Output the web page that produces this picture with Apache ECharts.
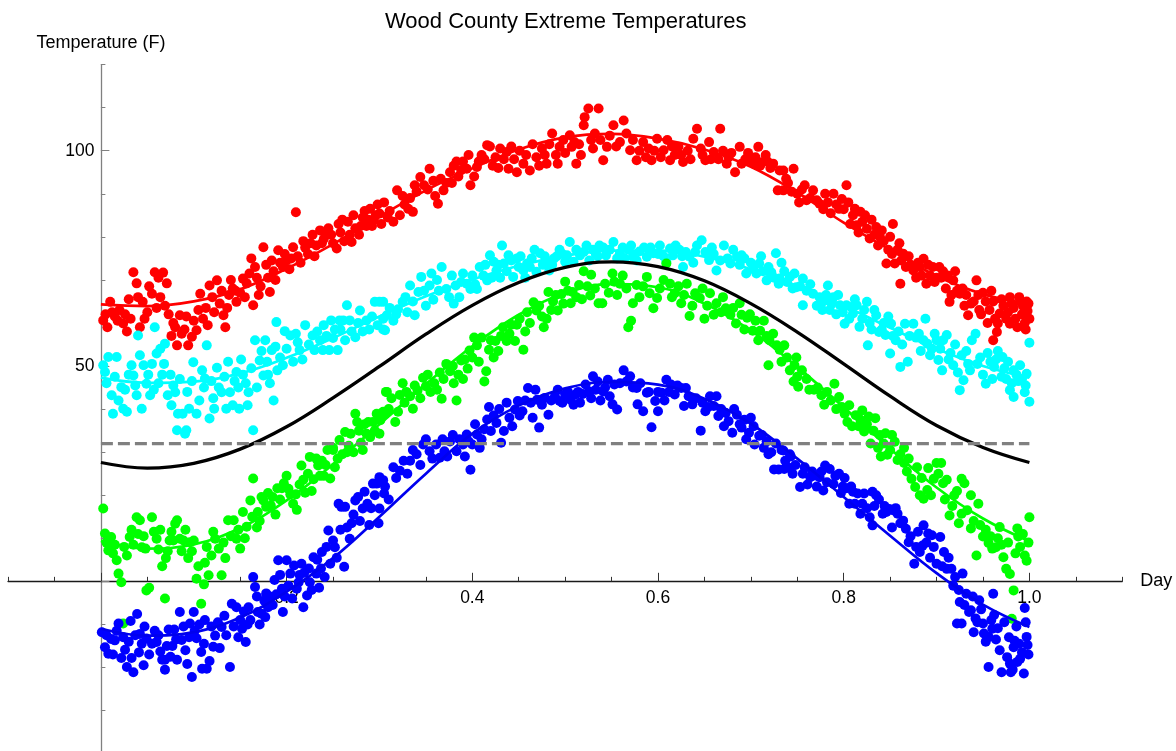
<!DOCTYPE html>
<html><head><meta charset="utf-8">
<script src="https://cdn.jsdelivr.net/npm/echarts@6/dist/echarts.min.js"></script>
<style>html,body{margin:0;padding:0;background:#fff}#c{width:1176px;height:751px}</style>
</head><body><div id="c"></div>
<script>
const titleText = 'Wood County Extreme Temperatures';
const xName = 'Day';
const yName = 'Temperature (F)';
const xTickLabels = ['0.2','0.4','0.6','0.8','1.0'];
const yTickLabels = ['50','100'];
const freezingF = 32;

const fitX = [0,0.05,0.1,0.15,0.2,0.25,0.3,0.35,0.4,0.45,0.5,0.55,0.6,0.65,0.7,0.75,0.8,0.85,0.9,0.95,1.0];
const redFit   = [64.3,63.9,65.0,67.8,72.6,78.3,84.7,90.8,95.9,100.3,103.1,103.9,102.8,100.3,96.3,90.3,83.3,77.0,70.9,66.7,64.3];
const cyanFit  = [47.3,46.1,46.4,48.3,51.9,56.5,61.5,66.2,70.1,73.3,75.6,76.8,76.8,75.4,72.5,68.6,64.0,58.9,54.0,50.0,47.3];
const blackCurve = [27.6,26.3,27.4,30.7,35.9,42.6,49.9,57.4,64.1,69.4,72.9,74.2,73.1,69.8,64.5,57.9,50.5,43.0,36.2,31.1,27.6];
const greenFit = [9.4,7.6,8.6,12.4,18.8,27.2,36.5,45.8,54.6,61.9,66.9,69.0,68.3,64.5,58.2,49.8,40.4,30.8,21.8,14.6,9.3];
const blueFit  = [-11.0,-12.6,-11.8,-8.4,-2.4,5.4,15.0,25.0,34.3,40.8,44.8,46.3,45.7,42.4,36.6,28.5,19.6,10.6,1.9,-5.4,-10.6];

const redPoints = [
[0.0025,60.6],[0.005,62],[0.01,64.9],[0.015,61.5],[0.02,63],[0.024,59.9],[0.028,58],[0.03,65.5],[0.035,71.8],[0.0385,69.2],[0.042,59],[0.045,64.9],[0.05,62.5],[0.055,66.8],[0.058,71.8],[0.062,70.5],[0.064,66],[0.067,71.7],[0.071,69.2],[0.076,57],[0.078,60],[0.082,54.8],[0.085,61.8],[0.09,58.5],[0.094,54.8],[0.098,56.8],[0.103,58.3],[0.107,66.8],[0.11,61],[0.113,63.5],[0.117,68.7],[0.12,66],[0.125,69.9],[0.128,64.5],[0.132,61.8],[0.134,59],[0.138,66.5],[0.142,68],[0.146,64.9],[0.15,67],[0.153,70.3],[0.157,69.2],[0.162,75],[0.164,64.1],[0.168,70.5],[0.172,68.5],[0.175,77.6],[0.178,73.5],[0.182,67.2],[0.186,72],[0.191,76.9],[0.196,73],[0.2,74.5],[0.203,72.5],[0.207,77.6],[0.21,85.7],[0.212,75.5],[0.218,79],[0.223,76],[0.228,80.5],[0.232,78],[0.236,81.5],[0.24,79.5],[0.245,82],[0.248,80.5],[0.254,77.3],[0.258,81],[0.262,79],[0.266,83.5],[0.27,78.8],[0.274,82],[0.278,80.5],[0.282,84.5],[0.286,82.5],[0.29,86.5],[0.294,84],[0.298,87.5],
[0.007,59],[0.012,62.5],[0.018,60.5],[0.026,62],[0.032,61],[0.04,66],[0.047,61],[0.052,68.5],[0.06,63.5],[0.069,64],[0.073,62],[0.08,59],[0.087,57.5],[0.092,61.5],[0.1,60.5],[0.105,63],[0.115,59.5],[0.122,62.5],[0.13,67.5],[0.136,63.5],[0.14,70],[0.145,67.5],[0.155,66],[0.16,71.5],[0.166,73],[0.17,66.5],[0.18,70.5],[0.184,74.5],[0.188,70],[0.193,74],[0.198,76],[0.205,75],[0.215,74],[0.22,77.5],[0.226,78.5],[0.23,75.5],[0.238,78.5],[0.243,80.5],[0.25,78.5],[0.256,83],[0.26,84],[0.268,80.5],[0.272,85],[0.28,82.5],[0.284,86],[0.288,84],[0.292,82.5],[0.296,85],
[0.3,85.4],[0.305,88],[0.311,86],[0.315,83.5],[0.319,90.8],[0.322,85],[0.327,87.5],[0.333,89],[0.336,85.8],[0.34,90.5],[0.344,93.9],[0.348,92],[0.354,95.8],[0.358,93],[0.363,87.7],[0.369,90.8],[0.372,92.5],[0.376,95],[0.38,96.5],[0.385,94],[0.39,97.5],[0.394,95.8],[0.398,92],[0.405,96.2],[0.41,99],[0.416,101.3],[0.419,101],[0.425,98.5],[0.43,100.5],[0.437,99.7],[0.439,95.8],[0.445,98],[0.448,95],[0.455,97],[0.462,95.4],[0.469,98.5],[0.475,100.5],[0.48,97],[0.486,104],[0.49,99],[0.494,100.9],[0.498,102.5],[0.505,103.6],[0.507,100.9],[0.512,97],[0.515,101.5],[0.52,105.9],[0.521,107.8],[0.525,109.8],[0.528,102.5],[0.532,104],[0.536,109.8],[0.541,97.8],[0.545,100.9],[0.548,103.5],[0.552,105.9],[0.559,102],[0.563,107],[0.566,104],[0.57,100.1],[0.577,97.8],[0.58,100],[0.584,102],[0.59,100.5],[0.593,97.8],[0.599,102.8],[0.606,100.1],[0.61,102.5],[0.613,97.8],[0.618,99],[0.622,100.9],[0.627,97.4],[0.632,100],[0.638,102.8],[0.642,105.1],[0.646,100.5],[0.651,97.8],[0.655,102],[0.66,99.7],[0.665,98],[0.667,105.1],[0.674,97],[0.679,99.5],[0.683,95],[0.688,100.9],[0.694,98],[0.699,97.8],[0.703,97],[0.708,100.9],[0.713,97.4],[0.718,97.5],[0.724,97],[0.729,90.8],[0.735,95.4],[0.746,95.8],
[0.302,83],[0.309,84.5],[0.325,89.5],[0.331,86.5],[0.338,92],[0.352,91],[0.36,89.5],[0.366,93.5],[0.378,92.5],[0.383,97.5],[0.388,95.5],[0.396,99],[0.402,94],[0.407,97.5],[0.413,98],[0.422,96.5],[0.428,96],[0.434,98],[0.442,101],[0.451,100],[0.458,99],[0.465,101.5],[0.472,96.5],[0.478,99],[0.483,101.5],[0.492,97],[0.5,99.5],[0.51,102],[0.517,99],[0.53,100.5],[0.538,102.5],[0.555,101],[0.573,102.5],[0.587,98.5],[0.596,100],[0.603,98.5],[0.615,101],[0.625,99],[0.635,98],[0.648,99],[0.657,98],[0.67,100],[0.676,98.5],[0.69,97],[0.697,99.5],[0.705,98.5],[0.71,96.5],[0.716,99],[0.721,96],
[0.731,95.4],[0.735,90.8],[0.74,92.5],[0.75,90],[0.755,91],[0.76,88.5],[0.767,90.8],[0.774,87.7],[0.778,86.4],[0.783,88],[0.789,90],[0.795,86.5],[0.798,88.8],[0.8,86.4],[0.803,92],[0.807,83],[0.81,85],[0.814,82.7],[0.818,85.8],[0.82,83.5],[0.825,81.9],[0.828,79.6],[0.83,84],[0.835,82.3],[0.839,80],[0.843,79],[0.846,73.8],[0.85,80],[0.853,83],[0.855,73.8],[0.858,77],[0.861,69.1],[0.864,76.1],[0.867,73],[0.87,75.5],[0.875,72.2],[0.878,70.5],[0.882,73],[0.886,74.9],[0.889,69.1],[0.893,71],[0.896,73],[0.9,70.5],[0.903,73],[0.907,72],[0.91,68],[0.914,64.9],[0.918,69.9],[0.922,67.5],[0.925,66.8],[0.93,64],[0.934,61.8],[0.94,65],[0.943,69.9],[0.946,63],[0.95,67],[0.953,65],[0.957,63],[0.961,65],[0.961,56],[0.965,57.9],[0.966,59.9],[0.968,62.2],[0.972,64],[0.979,66],[0.979,59.8],[0.983,63.5],[0.987,59],[0.99,65],[0.992,62],[0.995,60],[0.997,65],[0.998,62.8],[1.0,61],
[0.738,93.5],[0.744,90.5],[0.752,88],[0.758,92],[0.764,89],[0.771,88.5],[0.78,90],[0.786,85.5],[0.792,87.5],[0.805,88],[0.812,86.5],[0.816,81],[0.823,85],[0.833,80.5],[0.837,78],[0.841,81.5],[0.848,77],[0.852,76],[0.86,78.5],[0.862,74.5],[0.872,73.5],[0.88,74],[0.884,71],[0.891,73.5],[0.898,69.5],[0.905,70.5],[0.912,71],[0.916,66.5],[0.92,72],[0.928,68],[0.932,66.5],[0.937,64.5],[0.945,66.5],[0.948,62],[0.955,60],[0.959,67.5],[0.963,61],[0.97,65.5],[0.975,61],[0.977,62.5],[0.981,64.5],[0.985,61],[0.989,66],[0.993,64],[0.996,58.5],[0.999,64.5]
];

const cyanPoints = [
[0.0025,50.2],[0.0044,48.6],[0.008,52.1],[0.0116,43.2],[0.013,38.9],[0.017,52.1],[0.022,45.1],[0.024,40.1],[0.028,39.4],[0.033,50.2],[0.035,47.8],[0.0385,43.2],[0.04,57.1],[0.044,40.1],[0.046,50.2],[0.049,45.9],[0.053,43.2],[0.057,44.5],[0.058,59],[0.06,52.9],[0.064,54],[0.066,48],[0.069,55.2],[0.072,43.2],[0.075,48],[0.076,40.9],[0.08,43.9],[0.082,35.1],[0.083,38.9],[0.088,38.9],[0.0906,34.3],[0.092,35.1],[0.095,40.1],[0.0995,50.9],[0.103,38.9],[0.111,45],[0.112,47.1],[0.114,54.8],[0.117,37.8],[0.121,42.5],[0.122,40.1],[0.125,49.6],[0.13,43.9],[0.135,40.1],[0.139,43.9],[0.142,40.9],[0.146,48.6],[0.148,45],[0.149,40.1],[0.153,48],[0.158,40.9],[0.159,43.9],[0.164,35.1],[0.166,56],[0.171,51.3],[0.175,47.8],[0.177,56],[0.18,48],[0.184,53.7],[0.186,42],[0.189,60.2],[0.19,49],[0.196,50.2],[0.198,58.1],[0.204,57.1],[0.21,57.5],[0.214,53.7],[0.22,59.5],[0.228,57.1],[0.23,53.7],[0.239,53.7],[0.24,59.5],[0.246,53.7],[0.248,60.6],[0.255,53.7],[0.257,60.6],[0.258,58.5],[0.261,60.6],[0.265,64.1],[0.268,60.6],[0.274,56.7],[0.279,62.9],[0.286,60.6],[0.289,58.5],[0.295,64.9],[0.3,64.9],[0.304,58.5],[0.304,61],
[0.006,46],[0.015,47.5],[0.019,42],[0.026,44.5],[0.03,48],[0.037,45.5],[0.042,52.5],[0.051,48],[0.055,50.5],[0.062,46],[0.068,50.5],[0.078,45.5],[0.085,47],[0.093,44],[0.098,46.5],[0.106,42],[0.109,49],[0.119,46.5],[0.127,45],[0.133,47.5],[0.137,51],[0.144,46.5],[0.151,51.5],[0.156,46],[0.162,49.5],[0.168,45],[0.173,53.5],[0.179,51],[0.182,46],[0.188,54.5],[0.193,52],[0.2,54],[0.207,51],[0.212,55.5],[0.217,51.5],[0.224,55],[0.233,58],[0.236,56],[0.243,57],[0.25,56.5],[0.252,58.5],[0.263,56],[0.27,58],[0.277,60],[0.282,58],[0.292,61.5],[0.298,59.5],
[0.304,64.9],[0.306,58.3],[0.308,61.8],[0.315,60.5],[0.32,63.2],[0.325,64.9],[0.33,62.5],[0.333,68.7],[0.338,61.8],[0.342,67.2],[0.345,70.7],[0.35,64],[0.354,68.7],[0.358,65.4],[0.362,70],[0.367,73],[0.372,67.9],[0.375,66],[0.382,68.7],[0.386,66],[0.39,71.5],[0.394,69.1],[0.398,67.9],[0.405,67.9],[0.408,73],[0.412,71],[0.416,69.9],[0.419,75.7],[0.423,74.2],[0.426,72.2],[0.43,70.5],[0.432,78],[0.434,73.8],[0.439,75.7],[0.444,70.7],[0.448,75],[0.45,73],[0.455,72.2],[0.459,73.8],[0.464,75],[0.469,71.9],[0.473,76.2],[0.476,73.5],[0.48,74.2],[0.483,72.2],[0.488,75],[0.494,77],[0.5,74.2],[0.502,75.7],[0.505,78.8],[0.509,74.2],[0.516,75.7],[0.52,76.5],[0.523,78],[0.53,77],[0.535,75.5],[0.537,78],[0.544,75.7],[0.548,77],[0.552,78.8],[0.559,76.2],[0.564,75],[0.568,77],[0.573,75.4],[0.58,76.6],[0.585,77.5],[0.588,75.4],[0.595,76.2],[0.6,76],[0.602,78],[0.609,74.2],[0.613,77.3],[0.616,75.7],[0.623,77],[0.627,73],[0.63,76.5],[0.634,75.4],[0.638,74],[0.642,78],[0.647,79.2],[0.655,74.6],[0.66,76],[0.663,72.2],[0.671,78],[0.675,75],[0.678,73.8],[0.685,75.4],[0.69,75.7],[0.695,71.5],[0.7,74],[0.706,71.5],[0.709,73.8],[0.713,72],[0.717,69.9],[0.722,71.8],[0.727,76.2],[0.73,69.1],[0.736,72],[0.742,70.7],[0.749,68.3],
[0.311,63.5],[0.318,62],[0.328,66],[0.336,65],[0.348,67.5],[0.356,71.5],[0.364,67.5],[0.378,71],[0.38,64.5],[0.388,69.5],[0.4,71],[0.403,69],[0.414,73.5],[0.421,70.5],[0.428,73.5],[0.437,72],[0.442,74.5],[0.452,75.5],[0.457,70.5],[0.462,73],[0.467,77],[0.478,75.5],[0.486,73.5],[0.491,75.5],[0.497,76],[0.512,77],[0.526,74.5],[0.533,76],[0.541,77.5],[0.556,75],[0.562,77.5],[0.571,78],[0.577,74.5],[0.592,77.5],[0.606,75.5],[0.619,78],[0.626,75.5],[0.64,76.5],[0.651,76.5],[0.658,77.5],[0.667,74.5],[0.681,77],[0.688,73.5],[0.693,75],[0.703,72.5],[0.711,75.5],[0.719,73],[0.725,70.5],[0.733,74],[0.739,69.5],[0.747,71.5],
[0.731,70.3],[0.745,68],[0.756,70.3],[0.756,64.1],[0.76,67.5],[0.767,66.8],[0.774,66],[0.777,63],[0.778,65],[0.783,68.7],[0.785,63],[0.789,66],[0.792,62],[0.796,64.1],[0.801,59.8],[0.803,64.1],[0.808,63.7],[0.81,62.2],[0.814,64.1],[0.817,59.1],[0.82,61],[0.825,64.9],[0.826,54.8],[0.83,58.5],[0.835,61.8],[0.838,57.9],[0.843,60],[0.845,57.2],[0.85,52.9],[0.851,59.8],[0.856,56],[0.861,49.8],[0.866,59.8],[0.869,51],[0.875,59.8],[0.878,56.6],[0.883,53.5],[0.888,61],[0.89,55.2],[0.895,54],[0.9,56],[0.902,51.4],[0.906,49],[0.907,56],[0.911,57.2],[0.915,53],[0.918,50.2],[0.925,44.4],[0.927,52.5],[0.929,46.7],[0.934,50.5],[0.938,56],[0.942,57.5],[0.947,52],[0.953,45.9],[0.958,51],[0.962,49.8],[0.966,53.5],[0.97,47.5],[0.971,52.1],[0.975,47],[0.979,44.4],[0.983,49],[0.983,42.8],[0.988,46.5],[0.99,50.2],[0.995,43.9],[0.997,48.2],[1.0,41.7],[1.0,55.4],
[0.753,68.5],[0.764,69],[0.771,64],[0.781,66.5],[0.787,64.5],[0.794,66.5],[0.799,62.5],[0.806,61],[0.812,65.5],[0.822,63],[0.828,60],[0.833,63],[0.841,58.5],[0.848,61.5],[0.853,57],[0.859,58],[0.863,55],[0.871,57],[0.881,57.5],[0.886,56],[0.893,52.5],[0.898,57.5],[0.904,54],[0.913,51.5],[0.92,55],[0.923,48.5],[0.932,53.5],[0.936,49],[0.944,50.5],[0.95,48],[0.955,53],[0.96,47],[0.964,51.5],[0.973,49.5],[0.977,51],[0.981,46],[0.986,48],[0.992,47],[0.996,45.5]
];

const greenPoints = [
[0.0025,16.9],[0.0044,11.1],[0.008,7.2],[0.011,10.3],[0.013,6.5],[0.017,4.9],[0.019,1.8],[0.022,-0.2],[0.024,-9.8],[0.028,6],[0.031,10.3],[0.035,8.5],[0.0385,14.9],[0.042,14.2],[0.044,7.9],[0.048,7.6],[0.049,-2.1],[0.052,-1.5],[0.055,14.9],[0.06,9.9],[0.062,7.4],[0.066,3.5],[0.069,-4],[0.07,5.4],[0.074,9.5],[0.078,9.5],[0.08,13.4],[0.082,14.2],[0.085,9.9],[0.089,9.5],[0.094,5.4],[0.096,9.1],[0.1,9.5],[0.103,0.6],[0.105,3.5],[0.108,-5.2],[0.111,-0.7],[0.112,4.3],[0.116,1.4],[0.123,9.9],[0.127,7.6],[0.13,1.4],[0.134,5.4],[0.137,14.2],[0.143,14.2],[0.146,9.9],[0.15,7.6],[0.153,16.1],[0.157,12.7],[0.161,18.8],[0.164,23.9],[0.168,12.5],[0.169,16.1],[0.173,19.6],[0.175,18.8],[0.178,17.3],[0.183,17.6],[0.185,19.6],[0.19,21.6],[0.195,21.6],[0.197,22.8],[0.2,24.5],[0.204,20.2],[0.21,20.2],[0.211,16.6],[0.216,26.9],[0.218,23.6],[0.22,20.6],[0.225,28.9],[0.229,23.7],[0.232,28.5],[0.234,26.9],[0.236,24.5],[0.24,24.5],[0.244,30.5],[0.247,23.9],[0.25,30.5],[0.25,31],[0.255,28.5],[0.257,32.8],[0.263,34.7],[0.265,30],[0.269,34.3],[0.274,38.9],[0.276,37],[0.28,32.2],[0.284,36.5],[0.286,34.3],[0.29,33.5],[0.293,37],[0.297,38.9],[0.301,37.4],[0.304,39.4],[0.307,44],
[0.006,9],[0.015,8.5],[0.025,8],[0.033,12],[0.04,11],[0.046,10.5],[0.057,11.5],[0.064,12],[0.072,7],[0.076,11.5],[0.087,7],[0.091,12],[0.098,7],[0.114,8],[0.119,6],[0.121,11.5],[0.132,9],[0.14,10.5],[0.148,12],[0.155,10],[0.163,15],[0.171,14],[0.18,20.5],[0.188,15.5],[0.193,19],[0.202,21.5],[0.207,18],[0.214,22.5],[0.223,25],[0.227,21],[0.238,28],[0.242,27],[0.252,26.5],[0.26,29.5],[0.267,31.5],[0.272,30],[0.278,35],[0.282,30.5],[0.288,37],[0.295,35],
[0.3,34.3],[0.306,38.9],[0.308,44],[0.313,42.5],[0.32,39.4],[0.322,43.3],[0.325,46],[0.329,44],[0.333,43],[0.336,40.1],[0.341,44.3],[0.347,47.3],[0.35,45.3],[0.355,44],[0.359,46],[0.365,48.5],[0.367,42.4],[0.372,50.5],[0.376,48.8],[0.383,42],[0.385,48],[0.388,51.3],[0.392,51.5],[0.395,49.4],[0.397,53.6],[0.402,56.6],[0.405,54.8],[0.41,56.6],[0.413,46.4],[0.415,48.8],[0.418,53.8],[0.423,52],[0.425,55.8],[0.433,59],[0.437,55.8],[0.442,59.6],[0.446,55.8],[0.448,59.6],[0.455,53.8],[0.459,62.5],[0.466,64.8],[0.469,62.9],[0.477,59],[0.48,61],[0.482,67.2],[0.487,65],[0.492,62.9],[0.496,66.7],[0.5,69.6],[0.506,64.6],[0.508,67.2],[0.515,68.8],[0.52,72],[0.527,66.4],[0.528,71.2],[0.536,64.6],[0.54,64.6],[0.543,69.1],[0.551,71.5],[0.553,69.6],[0.559,69.1],[0.566,68],[0.568,59],[0.571,60.5],[0.573,64.6],[0.577,68.8],[0.588,70.7],[0.591,66.9],[0.595,63.4],[0.599,65.8],[0.606,70],[0.609,73.8],[0.613,69.1],[0.618,66.9],[0.625,64.6],[0.631,69.1],[0.634,61.6],[0.64,66.9],[0.645,65.8],[0.65,61],[0.656,66.9],[0.66,61.9],[0.663,64.6],[0.673,63.4],[0.678,61.9],[0.684,59.9],[0.688,64.6],[0.69,61.9],[0.696,61.2],[0.702,58.2],[0.71,58.2],[0.714,60.5],[0.719,50.2],[0.72,56],[0.728,54.8],[0.731,53.8],[0.736,54.8],[0.739,52],[0.746,46.4],[0.747,50.2],[0.75,47.5],
[0.31,40],[0.317,37],[0.327,41.5],[0.338,45.5],[0.344,42.5],[0.352,48],[0.362,44.5],[0.369,47],[0.379,50],[0.38,46],[0.39,47],[0.4,52],[0.407,51],[0.42,56],[0.428,53.5],[0.431,57],[0.44,57.5],[0.451,61],[0.457,58],[0.462,60],[0.472,64],[0.475,61.5],[0.485,63],[0.49,66.5],[0.498,64.5],[0.503,67.5],[0.512,66],[0.518,65.5],[0.524,68.5],[0.532,68],[0.547,67],[0.556,66.5],[0.562,71],[0.58,66],[0.584,68.5],[0.602,68],[0.615,66],[0.622,68.5],[0.628,66.5],[0.637,64],[0.648,68],[0.653,64],[0.668,62.5],[0.67,66],[0.681,63.5],[0.693,58.5],[0.699,62],[0.705,60.5],[0.708,56],[0.717,57],[0.724,57.5],[0.733,51],[0.742,49],[0.749,52],
[0.751,45.2],[0.76,47],[0.768,44.5],[0.776,43.2],[0.782,44],[0.79,45.9],[0.795,42.8],[0.801,38.9],[0.806,40.9],[0.813,38.6],[0.816,36],[0.82,39.7],[0.822,34.8],[0.827,38.3],[0.829,32],[0.834,37.9],[0.839,34],[0.84,29],[0.845,34.4],[0.847,29.4],[0.852,34],[0.855,32.4],[0.858,28.2],[0.865,31],[0.865,27.5],[0.873,23.8],[0.877,21.9],[0.882,20],[0.886,19.2],[0.89,21.2],[0.891,26.3],[0.897,23.8],[0.9,27.5],[0.905,27.5],[0.907,22.8],[0.911,23.6],[0.914,15.3],[0.919,20],[0.927,15.7],[0.927,23.8],[0.93,22.8],[0.937,20],[0.937,12.3],[0.943,6],[0.947,13.1],[0.95,10.4],[0.956,8.9],[0.96,7.6],[0.964,7.9],[0.968,12.6],[0.972,5.6],[0.975,2.9],[0.979,1.7],[0.981,-8.7],[0.983,-2.1],[0.987,12.3],[0.988,10.4],[0.995,6],[0.997,4.8],[1.0,14.9],
[0.755,49],[0.763,44.5],[0.772,45],[0.779,41],[0.786,42],[0.792,40],[0.798,40.5],[0.804,37],[0.809,36],[0.818,37.5],[0.825,36.5],[0.832,35],[0.837,31],[0.843,32],[0.85,30.5],[0.861,29.5],[0.868,25.5],[0.87,28.5],[0.879,26.5],[0.884,24],[0.894,20],[0.902,25],[0.909,19],[0.917,17.5],[0.922,21],[0.924,13.5],[0.933,16.5],[0.94,14],[0.945,18],[0.953,12],[0.958,10.5],[0.966,10],[0.97,8.5],[0.977,9],[0.985,6.5],[0.99,8],[0.993,11],[0.999,9]
];

const bluePoints = [
[0.001,-11.8],[0.0044,-15.3],[0.008,-16.8],[0.011,-13.4],[0.015,-13.7],[0.019,-9.8],[0.022,-17.8],[0.026,-15.9],[0.028,-19.9],[0.032,-9.2],[0.033,-17.8],[0.035,-21.1],[0.039,-7.6],[0.042,-12.2],[0.044,-14.5],[0.046,-19.5],[0.049,-13.3],[0.055,-14.5],[0.06,-14.1],[0.064,-16.3],[0.066,-18.2],[0.069,-18.2],[0.069,-20.5],[0.073,-11.2],[0.077,-15],[0.079,-11.2],[0.082,-18.2],[0.085,-7.1],[0.087,-13.6],[0.093,-19.2],[0.096,-9.8],[0.098,-22.2],[0.1,-7.1],[0.103,-13.2],[0.108,-16.4],[0.109,-20.3],[0.112,-9],[0.114,-20.3],[0.117,-18.5],[0.121,-15.2],[0.123,-12.6],[0.126,-9.5],[0.13,-10.6],[0.135,-12.5],[0.139,-19.9],[0.141,-5.2],[0.146,-6],[0.15,-9],[0.152,-11],[0.156,-14.1],[0.158,-10],[0.159,-6],[0.164,1],[0.166,-1.3],[0.169,-7.1],[0.173,-7.5],[0.177,-8.3],[0.178,-2.8],[0.182,-3.5],[0.185,-5.5],[0.187,0.3],[0.191,4.9],[0.195,-1.7],[0.196,-7.1],[0.2,4.9],[0.204,1.8],[0.208,3.7],[0.211,-1.7],[0.213,-0.2],[0.216,4.1],[0.218,-6],[0.222,-3.3],[0.225,-0.2],[0.229,5.6],[0.232,1.8],[0.235,-1.5],[0.238,6.8],[0.241,1],[0.245,11.8],[0.247,4.1],[0.252,7.9],[0.256,18],[0.259,17.3],[0.262,3.4],[0.263,17.3],[0.268,9.9],[0.27,13.5],[0.274,18.8],[0.277,19.6],[0.282,16.9],[0.284,20.8],[0.289,13.1],[0.293,22.7],[0.297,22.7],[0.3,16.9],[0.305,20.4],[0.306,22],
[0.006,-12.5],[0.013,-17],[0.017,-11.5],[0.024,-13],[0.03,-14],[0.037,-12.5],[0.041,-16.5],[0.047,-10.5],[0.052,-17],[0.058,-11.5],[0.062,-12.5],[0.071,-15],[0.075,-17.5],[0.081,-13.5],[0.089,-10.5],[0.091,-16],[0.095,-13],[0.101,-11.5],[0.106,-10],[0.111,-14.5],[0.119,-10.5],[0.128,-15.5],[0.133,-8],[0.143,-10.5],[0.148,-13],[0.154,-7],[0.161,-9],[0.168,-3.5],[0.171,-10],[0.176,-4.5],[0.18,-6],[0.189,-3],[0.193,1.5],[0.198,-3.5],[0.202,-1],[0.206,-4],[0.214,1.5],[0.219,2],[0.224,3],[0.227,-2],[0.233,5],[0.237,3],[0.243,8],[0.25,9.5],[0.254,5.5],[0.258,12],[0.265,12.5],[0.272,15.5],[0.279,14],[0.287,18],[0.291,17],[0.295,20],[0.299,13.5],
[0.3,24.2],[0.315,26.5],[0.322,25.7],[0.333,28],[0.336,30.5],[0.347,31.8],[0.354,30.2],[0.361,31.8],[0.365,28.7],[0.37,30.2],[0.376,32.5],[0.383,30.2],[0.39,31.8],[0.394,34.1],[0.398,25.9],[0.4,31.8],[0.405,34.1],[0.408,31],[0.413,35.3],[0.416,37.6],[0.42,34.9],[0.426,36.8],[0.431,32.2],[0.434,34.9],[0.44,38],[0.446,39.9],[0.449,41.9],[0.454,39.5],[0.46,44.9],[0.465,38],[0.47,42.2],[0.472,35.7],[0.478,42.6],[0.482,38.7],[0.489,43],[0.494,41.9],[0.5,43.4],[0.506,42.2],[0.511,43.4],[0.516,41.5],[0.522,45.7],[0.526,44.1],[0.53,47.6],[0.535,46.4],[0.541,44.1],[0.546,46.8],[0.551,41.1],[0.553,45.7],[0.556,39.9],[0.563,49],[0.566,46.4],[0.57,47.6],[0.577,44.9],[0.578,41.1],[0.584,39.5],[0.588,43.8],[0.593,35.8],[0.597,41.9],[0.6,39.5],[0.604,43.8],[0.609,46.8],[0.614,45.7],[0.618,43.4],[0.625,44.9],[0.628,40.7],[0.63,44.9],[0.637,41.1],[0.646,35],[0.651,39.5],[0.656,43],[0.66,40.7],[0.665,38.4],[0.673,39.1],[0.676,37.2],[0.68,34.5],[0.685,38.7],[0.69,35.7],[0.695,33],[0.7,38],[0.704,31.8],[0.709,33.8],[0.714,31],[0.719,29.5],[0.725,26],[0.73,26],[0.737,28],[0.742,29.5],
[0.304,23.5],[0.31,19],[0.318,24],[0.326,28],[0.33,25],[0.34,29.5],[0.344,27],[0.35,33],[0.357,28.5],[0.368,33],[0.373,29],[0.379,34],[0.386,33],[0.392,29],[0.396,32.5],[0.403,36.5],[0.41,33],[0.418,40.5],[0.423,38.5],[0.429,40],[0.437,41.5],[0.443,36],[0.451,38.5],[0.457,42],[0.463,41.5],[0.468,44.5],[0.475,41],[0.485,42],[0.492,44.5],[0.497,41.5],[0.503,44],[0.509,41],[0.514,44],[0.519,43.5],[0.528,42.5],[0.533,44.5],[0.538,42],[0.543,45],[0.548,43],[0.559,46],[0.573,45],[0.581,46],[0.59,44],[0.6,44],[0.607,42],[0.612,44],[0.621,45.5],[0.633,43],[0.641,42.5],[0.648,41.5],[0.654,40.5],[0.663,43],[0.668,40],[0.671,36],[0.682,40],[0.688,36.5],[0.693,37.5],[0.698,34.5],[0.703,36],[0.712,34],[0.717,32.5],[0.722,30],[0.727,32],[0.733,30.5],[0.74,26.5],[0.748,27],
[0.735,30.4],[0.736,26.1],[0.743,29],[0.745,25],[0.753,21.9],[0.756,25],[0.764,24.2],[0.769,24.6],[0.774,24.2],[0.778,21.1],[0.78,26.9],[0.785,26.1],[0.789,22.6],[0.795,25],[0.799,22],[0.803,21.6],[0.806,18],[0.81,20.8],[0.815,20.4],[0.818,15.7],[0.822,20.4],[0.828,14.9],[0.831,20.8],[0.831,13],[0.835,20],[0.842,15.7],[0.846,16.1],[0.849,16.8],[0.853,16.5],[0.858,15.7],[0.864,14.1],[0.867,12.2],[0.87,9.1],[0.876,4.1],[0.882,6.8],[0.885,8.3],[0.886,13],[0.891,11.1],[0.895,10.7],[0.9,4.1],[0.904,10.3],[0.908,6.8],[0.911,2.9],[0.916,2.9],[0.92,1],[0.922,-9.8],[0.925,-4.8],[0.927,-9.8],[0.928,1.8],[0.932,-2.9],[0.935,-7.1],[0.937,-6.7],[0.94,-11.8],[0.942,-8.6],[0.946,-4.4],[0.95,-9.8],[0.951,-12.1],[0.956,-12.9],[0.956,-19.9],[0.96,-11],[0.961,-2.9],[0.962,-7.8],[0.966,-10.9],[0.97,-21.1],[0.976,-17.6],[0.979,-19.1],[0.98,-21.1],[0.983,-15.3],[0.984,-13.8],[0.987,-18.7],[0.99,-18],[0.994,-21.4],[0.995,-6.2],[0.997,-12.9],[0.998,-14.8],
[0.758,26.5],[0.761,22.5],[0.766,25.5],[0.771,22],[0.776,25.5],[0.782,23],[0.791,24.5],[0.797,20.5],[0.801,24],[0.808,22],[0.812,18],[0.82,18],[0.825,17],[0.833,17.5],[0.838,19],[0.844,17.5],[0.852,12.5],[0.856,17],[0.861,13.5],[0.872,10.5],[0.878,8],[0.88,11.5],[0.889,9],[0.893,5.5],[0.897,8],[0.906,3.5],[0.913,5.5],[0.918,-1],[0.924,-2],[0.93,-5.5],[0.939,-3.5],[0.944,-9.5],[0.948,-6.5],[0.953,-14],[0.959,-9],[0.964,-13.5],[0.968,-16],[0.973,-9.5],[0.978,-13],[0.982,-20.5],[0.986,-10.5],[0.989,-14.5],[0.992,-16.5],[0.996,-9.5],[0.999,-17]
];

const font = "'Liberation Sans', Arial, sans-serif";
function pairs(xs, ys) { return xs.map((x, i) => [x, ys[i]]); }
function tickLabel(list) {
  return v => { const s = list.find(t => Math.abs(Number(t) - v) < 1e-6); return s || ''; };
}
const chart = echarts.init(document.getElementById('c'), null, {renderer: 'canvas'});
const dot = 10;
chart.setOption({
  animation: false,
  backgroundColor: '#fff',
  title: {text: titleText, left: 385, top: 11, padding: 0,
    textStyle: {fontFamily: font, fontSize: 22, fontWeight: 'normal', color: '#000'}},
  grid: [
    {left: 8.05, top: 64.6, width: 1114.2, height: 689, containLabel: false, outerBoundsMode: 'none'},
    {left: 100.9, top: -64.6, width: 1114.2, height: 645.9, containLabel: false, outerBoundsMode: 'none'}
  ],
  xAxis: [
    {type: 'value', gridIndex: 0, min: -0.1, max: 1.1, interval: 0.05,
      name: xName, nameLocation: 'end', nameGap: 18,
      nameTextStyle: {fontFamily: font, fontSize: 18, color: '#000'},
      axisLine: {show: true, onZero: true, lineStyle: {color: '#1a1a1a', width: 1.3}},
      axisTick: {show: true, inside: true, length: 4.5, lineStyle: {color: '#333', width: 1}},
      axisLabel: {show: false}, splitLine: {show: false}},
    {type: 'value', gridIndex: 1, min: 0, max: 1.2, interval: 0.2, position: 'bottom',
      axisLine: {show: false, onZero: false},
      axisTick: {show: true, inside: true, length: 8.5, lineStyle: {color: '#333', width: 1}},
      axisLabel: {show: true, margin: 8, fontFamily: font, fontSize: 17.5, color: '#000',
        formatter: tickLabel(xTickLabels)},
      splitLine: {show: false}}
  ],
  yAxis: [
    {type: 'value', gridIndex: 0, min: -40, max: 120, interval: 10,
      name: yName, nameLocation: 'end', nameGap: 13,
      nameTextStyle: {fontFamily: font, fontSize: 18, color: '#000', align: 'center'},
      axisLine: {show: true, onZero: true, lineStyle: {color: '#808080', width: 1.3}},
      axisTick: {show: true, inside: true, length: 4.5, lineStyle: {color: '#808080', width: 1}},
      axisLabel: {show: false}, splitLine: {show: false}},
    {type: 'value', gridIndex: 1, min: 0, max: 150, interval: 50, position: 'left',
      axisLine: {show: false, onZero: false},
      axisTick: {show: true, inside: true, length: 8.5, lineStyle: {color: '#808080', width: 1}},
      axisLabel: {show: true, margin: 6.5, fontFamily: font, fontSize: 17.5, color: '#000',
        formatter: tickLabel(yTickLabels)},
      splitLine: {show: false}}
  ],
  series: [
    {type: 'scatter', name: 'Record highs', data: redPoints, symbolSize: dot, itemStyle: {color: '#ff0000', opacity: 1}, z: 2},
    {type: 'scatter', name: 'Average highs', data: cyanPoints, symbolSize: dot, itemStyle: {color: '#00ffff', opacity: 1}, z: 2},
    {type: 'scatter', name: 'Average lows', data: greenPoints, symbolSize: dot, itemStyle: {color: '#00ff00', opacity: 1}, z: 2},
    {type: 'scatter', name: 'Record lows', data: bluePoints, symbolSize: dot, itemStyle: {color: '#0000ff', opacity: 1}, z: 2},
    {type: 'line', data: pairs(fitX, redFit), smooth: 0.4, showSymbol: false, symbol: 'none', lineStyle: {color: '#ff0000', width: 2.7}, z: 3},
    {type: 'line', data: pairs(fitX, cyanFit), smooth: 0.4, showSymbol: false, symbol: 'none', lineStyle: {color: '#00ffff', width: 2.7}, z: 3},
    {type: 'line', data: pairs(fitX, greenFit), smooth: 0.4, showSymbol: false, symbol: 'none', lineStyle: {color: '#00ff00', width: 2.7}, z: 3},
    {type: 'line', data: pairs(fitX, blueFit), smooth: 0.4, showSymbol: false, symbol: 'none', lineStyle: {color: '#0000ee', width: 2.7}, z: 3},
    {type: 'line', data: pairs(fitX, blackCurve), smooth: 0.4, showSymbol: false, symbol: 'none', lineStyle: {color: '#000', width: 3.3}, z: 3},
    {type: 'line', data: [[0, freezingF], [1, freezingF]], showSymbol: false, symbol: 'none', lineStyle: {color: '#808080', width: 3.3, type: [12, 5]}, z: 3}
  ]
});
</script>
</body></html>
